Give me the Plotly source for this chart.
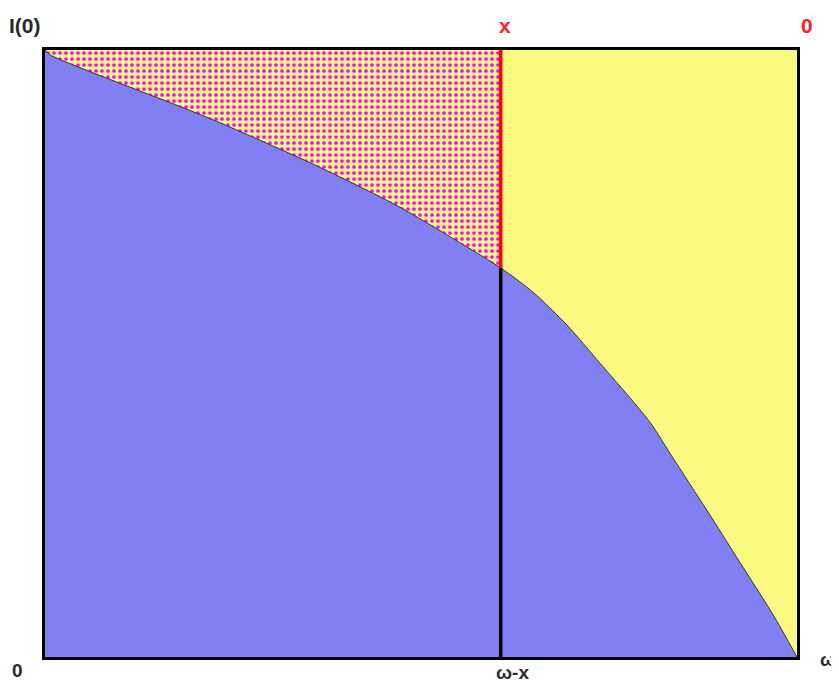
import numpy as np
import plotly.graph_objects as go

# Boundary curve I(t) on a 0..100 scale (omega at x=100, I(0) at y=100)
curve_x = [0, 0.66, 17.95, 23.3, 33.9, 39.2, 47.2, 60.6, 64.9, 69.4, 73.8,
           78.2, 80.5, 83.5, 88.0, 92.4, 96.8, 100]
curve_y = [100, 99.2, 90.7, 88.0, 82.2, 79.1, 74.1, 64.1, 60.1, 54.7, 48.4,
           42.1, 38.6, 32.8, 24.2, 15.6, 7.0, 0]
split_x = 60.6  # position of omega - x
x_min, x_max, y_min, y_max = 0, 100, 0, 100

split_y = float(np.interp(split_x, curve_x, curve_y))

YELLOW = "#FAFA80"
BLUE = "#8080F4"

fig = go.Figure()

# dotted area left of the split line (the blue area is drawn over its lower part)
fig.add_trace(go.Scatter(x=[x_min, split_x, split_x, x_min, x_min],
                         y=[y_min, y_min, y_max, y_max, y_min],
                         fill="toself", fillcolor=YELLOW, mode="none",
                         fillpattern=dict(shape=".", fgcolor="#FF00FF",
                                          bgcolor=YELLOW, size=6, solidity=0.3,
                                          fgopacity=1),
                         hoverinfo="skip", showlegend=False))

# blue area under the curve
fig.add_trace(go.Scatter(x=curve_x, y=curve_y, fill="tozeroy", fillcolor=BLUE,
                         mode="lines", line=dict(color="#333333", width=1,
                                                 shape="spline", smoothing=0.6),
                         hoverinfo="skip", showlegend=False))

# vertical split line: black below curve, red above
fig.add_trace(go.Scatter(x=[split_x, split_x], y=[y_min, split_y], mode="lines",
                         line=dict(color="black", width=3.5), hoverinfo="skip",
                         showlegend=False))
fig.add_trace(go.Scatter(x=[split_x, split_x], y=[split_y, y_max], mode="lines",
                         line=dict(color="#FF0000", width=3.5), hoverinfo="skip",
                         showlegend=False))

font_dark = dict(family="Liberation Sans, Arial, sans-serif", size=21, color="#2a2a2a")
font_red = dict(family="Liberation Sans, Arial, sans-serif", size=21, color="#FF2020")
font_small = dict(family="Liberation Sans, Arial, sans-serif", size=19, color="#2a2a2a")

span_x = x_max - x_min
ann = [
    dict(x=-0.026, y=1.041, text="<b>I(0)</b>", font=font_dark),
    dict(x=(split_x - x_min) / span_x + 0.006, y=1.041, text="<b>x</b>", font=font_red),
    dict(x=1.013, y=1.041, text="<b>0</b>", font=font_red),
    dict(x=-0.037, y=-0.022, text="<b>0</b>", font=font_small),
    dict(x=(split_x - x_min) / span_x - 0.007, y=-0.025, text="<b>ω-x</b>",
         font=font_small, xanchor="left"),
    dict(x=1.0295, y=-0.004, text="<b>ω</b>", font=font_small, xanchor="left"),
]
for a in ann:
    a.update(xref="paper", yref="paper", showarrow=False, yanchor="middle",
             borderpad=0)
    a.setdefault("xanchor", "center")

fig.update_layout(
    width=831, height=676,
    margin=dict(l=37, r=42, t=42, b=27),
    paper_bgcolor="white", plot_bgcolor=YELLOW,
    annotations=ann,
    xaxis=dict(range=[x_min, x_max], showgrid=False, zeroline=False,
               showticklabels=False, ticks="", showline=True, mirror=True,
               linecolor="black", linewidth=3, fixedrange=True),
    yaxis=dict(range=[y_min, y_max], showgrid=False, zeroline=False,
               showticklabels=False, ticks="", showline=True, mirror=True,
               linecolor="black", linewidth=3, fixedrange=True),
)

fig.write_html("out.html", config={"displayModeBar": False})
